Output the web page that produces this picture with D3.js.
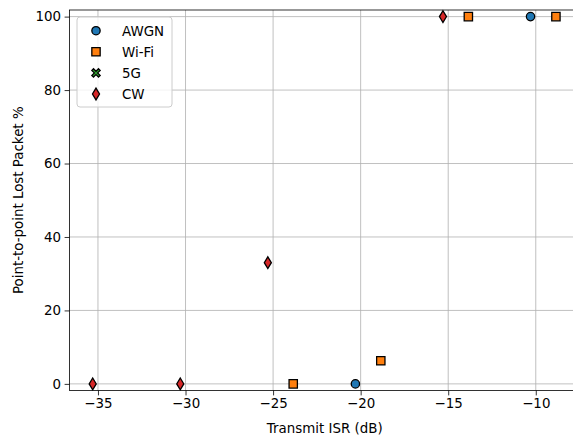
<!DOCTYPE html>
<html>
<head>
<meta charset="utf-8">
<script src="https://cdn.jsdelivr.net/npm/d3@7"></script>
<style>
  html, body { margin: 0; padding: 0; background: #fff; overflow: hidden; }
  svg { display: block; font-family: "DejaVu Sans", sans-serif; }
</style>
</head>
<body>
<svg id="chart" width="573" height="435"></svg>
<script>
// Packet loss versus transmit interference-to-signal ratio, per interferer type
const awgnIsr = [-20.3, -10.3];
const awgnLoss = [0, 100];
const wifiIsr = [-23.85, -18.85, -13.85, -8.85];
const wifiLoss = [0, 6.3, 100, 100];
const fiveGIsr = [];
const fiveGLoss = [];
const cwIsr = [-35.3, -30.3, -25.3, -15.3];
const cwLoss = [0, 0, 33, 100];

const xTicks = [-35, -30, -25, -20, -15, -10];
const yTicks = [0, 20, 40, 60, 80, 100];
const seriesNames = ["AWGN", "Wi-Fi", "5G", "CW"];

const svg = d3.select("#chart");
const plot = { left: 69.5, right: 580, top: 10, bottom: 390.5 };

const x = d3.scaleLinear().domain([-36.625, -7.475]).range([plot.left, plot.right]);
const y = d3.scaleLinear().domain([-1.8, 101.8]).range([plot.bottom, plot.top]);

const fontSize = 13.4;
const ms = 8.33; // marker size in px
const edge = 1.3; // marker edge width in px

// Marker path builders, centred on the origin
const markerPaths = {
  circle: () => { const p = d3.path(); p.arc(0, 0, ms / 2, 0, 2 * Math.PI); return p.toString(); },
  square: () => { const h = ms / 2; return `M${-h},${-h}H${h}V${h}H${-h}Z`; },
  thinDiamond: () => { const h = ms * Math.SQRT2 / 2, w = h * 0.6; return `M0,${-h}L${w},0L0,${h}L${-w},0Z`; },
  filledX: () => {
    const a = ms / 2, t = ms / 5;
    const pts = [[-a, -a + t], [-a + t, -a], [0, -t], [a - t, -a], [a, -a + t], [t, 0],
                 [a, a - t], [a - t, a], [0, t], [-a + t, a], [-a, a - t], [-t, 0]];
    return "M" + pts.map(p => p.join(",")).join("L") + "Z";
  }
};

const series = [
  { name: seriesNames[0], xs: awgnIsr, ys: awgnLoss, color: "#1f77b4", marker: "circle" },
  { name: seriesNames[1], xs: wifiIsr, ys: wifiLoss, color: "#ff7f0e", marker: "square" },
  { name: seriesNames[2], xs: fiveGIsr, ys: fiveGLoss, color: "#2ca02c", marker: "filledX" },
  { name: seriesNames[3], xs: cwIsr, ys: cwLoss, color: "#d62728", marker: "thinDiamond" }
];

svg.append("defs").append("clipPath").attr("id", "plotClip")
  .append("rect")
  .attr("x", plot.left - 6).attr("y", plot.top - 6)
  .attr("width", plot.right - plot.left + 12).attr("height", plot.bottom - plot.top + 12);

// Grid
const grid = svg.append("g").attr("stroke", "#b0b0b0").attr("stroke-width", 0.8);
grid.selectAll("line.vx").data(xTicks).join("line")
  .attr("x1", d => x(d)).attr("x2", d => x(d))
  .attr("y1", plot.top).attr("y2", plot.bottom);
grid.selectAll("line.hy").data(yTicks).join("line")
  .attr("x1", plot.left).attr("x2", plot.right)
  .attr("y1", d => y(d)).attr("y2", d => y(d));

// Axes
const xAxis = d3.axisBottom(x).tickValues(xTicks).tickSize(4.9).tickPadding(3.5)
  .tickFormat(d => d3.format("d")(d).replace("-", "\u2212"));
const yAxis = d3.axisLeft(y).tickValues(yTicks).tickSize(4.9).tickPadding(3.5)
  .tickFormat(d3.format("d"));

const gx = svg.append("g").attr("transform", `translate(0,${plot.bottom})`).call(xAxis);
const gy = svg.append("g").attr("transform", `translate(${plot.left},0)`).call(yAxis);
[gx, gy].forEach(g => {
  g.select(".domain").remove();
  g.selectAll(".tick line").attr("stroke", "#000").attr("stroke-width", 0.8);
  g.selectAll(".tick text").attr("fill", "#000").attr("font-size", fontSize)
    .attr("font-family", "DejaVu Sans, sans-serif");
});

// Frame
svg.append("rect")
  .attr("x", plot.left).attr("y", plot.top)
  .attr("width", plot.right - plot.left).attr("height", plot.bottom - plot.top)
  .attr("fill", "none").attr("stroke", "#000").attr("stroke-width", 0.8);

// Scatter points
const pts = svg.append("g").attr("clip-path", "url(#plotClip)");
series.forEach(s => {
  const data = s.xs.map((v, i) => [v, s.ys[i]]);
  pts.append("g").selectAll("path").data(data).join("path")
    .attr("d", markerPaths[s.marker]())
    .attr("transform", d => `translate(${x(d[0])},${y(d[1])})`)
    .attr("fill", s.color).attr("stroke", "#000").attr("stroke-width", edge);
});

// Axis titles
svg.append("text").attr("x", (plot.left + plot.right) / 2).attr("y", 433)
  .attr("text-anchor", "middle").attr("font-size", fontSize).text("Transmit ISR (dB)");
svg.append("text")
  .attr("transform", `translate(23,${(plot.top + plot.bottom) / 2}) rotate(-90)`)
  .attr("text-anchor", "middle").attr("font-size", fontSize).text("Point-to-point Lost Packet %");

// Legend
const legend = svg.append("g").attr("transform", "translate(77,17)");
legend.append("rect").attr("width", 95).attr("height", 90).attr("rx", 3)
  .attr("fill", "#fff").attr("fill-opacity", 0.8).attr("stroke", "#cccccc").attr("stroke-width", 1);
const rows = legend.selectAll("g.row").data(series).join("g")
  .attr("transform", (d, i) => `translate(0,${13.7 + i * 21.1})`);
rows.append("path").attr("d", d => markerPaths[d.marker]())
  .attr("transform", "translate(19,0)")
  .attr("fill", d => d.color).attr("stroke", "#000").attr("stroke-width", edge);
rows.append("text").attr("x", 45).attr("dy", "0.36em").attr("font-size", fontSize)
  .text(d => d.name);
</script>
</body>
</html>
